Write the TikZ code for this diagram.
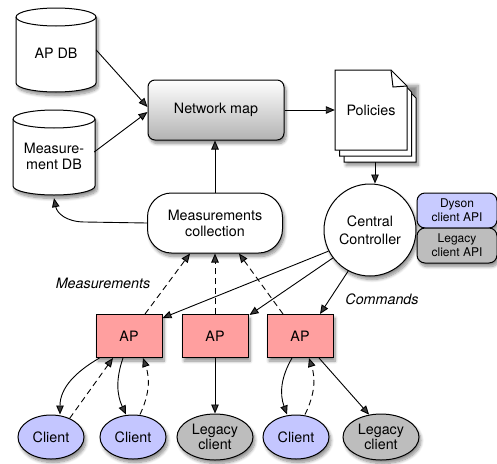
\documentclass[tikz,border=0pt]{standalone}
\usepackage{fontspec}
\setmainfont{TeX Gyre Heros}
\usetikzlibrary{arrows.meta,shadows.blur,calc,shapes.geometric}

\definecolor{appink}{HTML}{FF9F9F}
\definecolor{clientblue}{HTML}{C4C6FF}
\definecolor{legacygray}{HTML}{BDBDBD}
\definecolor{dysonblue}{HTML}{C8CBFF}

\tikzset{
  x=1pt, y=1pt,
  every node/.style={font=\fontsize{14.3}{16}\selectfont, inner sep=0pt},
  softshadow/.style={blur shadow={shadow xshift=2pt, shadow yshift=-3.5pt,
      shadow blur radius=3pt, shadow blur steps=8, shadow opacity=45}},
  outline/.style={draw=black, line width=1pt},
  arr/.style={line width=0.9pt, -{Triangle[length=9pt,width=7.5pt]}},
  dasharr/.style={arr, dash pattern=on 6pt off 4pt},
  apbox/.style={outline, softshadow, fill=appink, minimum width=66pt, minimum height=43pt},
  clientell/.style={outline, softshadow, ellipse, fill=clientblue, minimum width=66pt, minimum height=44pt},
  legacyell/.style={outline, softshadow, ellipse, fill=legacygray, minimum width=76pt, minimum height=46pt,
      align=center, font=\fontsize{14.3}{15}\selectfont},
  apibox/.style={outline, softshadow, rounded corners=8pt, minimum width=80pt, minimum height=35pt,
      align=center, font=\fontsize{12}{14}\selectfont},
  cylbody/.style={outline, fill=white, softshadow},
  page/.style={outline, fill=white, line join=miter},
  caption/.style={font=\fontsize{14.3}{16}\selectfont\itshape},
}

% cylinder outline: #1 left, #2 right, #3 y of top ellipse centre, #4 y of bottom ellipse centre, #5 y radius
\newcommand{\dbcyl}[5]{%
  \pgfmathsetmacro{\cylrx}{(#2-#1)/2}%
  \path[cylbody] (#1,#3) -- (#1,#4)
     arc[start angle=180, end angle=360, x radius=\cylrx pt, y radius=#5 pt]
     -- (#2,#3)
     arc[start angle=0, end angle=180, x radius=\cylrx pt, y radius=#5 pt] -- cycle;
  \draw[outline] (#1,#3) arc[start angle=180, end angle=360, x radius=\cylrx pt, y radius=#5 pt];
}

% one sheet of the document stack: #1 x shift, #2 y shift (downwards)
\newcommand{\sheet}[2]{%
  \path[page] (335+#1,-70-#2) -- (391+#1,-70-#2) -- (407+#1,-86-#2) -- (407+#1,-150-#2)
     -- (335+#1,-150-#2) -- cycle;
}

\begin{document}
\begin{tikzpicture}
\useasboundingbox (0,0) rectangle (497,-463);

% databases
\dbcyl{16}{96}{-17}{-83}{9}
\node[minimum width=80pt, minimum height=78pt] (apdb) at (56,-53) {AP DB};
\dbcyl{13}{95}{-119}{-186}{9}
\node[minimum width=82pt, minimum height=78pt, align=center] (measdb) at (54,-156) {Measure-\\ment DB};

% network map
\node[outline, softshadow, rounded corners=7pt, top color=white, bottom color=black!30,
      minimum width=136pt, minimum height=60pt] (netmap) at (216,-110) {Network map};

% policies document stack
\begin{scope}
  \path[softshadow] (344,-82) rectangle (416,-162);
  \sheet{9}{12}
  \sheet{4.5}{6}
  \sheet{0}{0}
  \draw[outline, line join=miter] (391,-70) -- (393,-87) -- (407,-86);
\end{scope}
\node[minimum width=72pt, minimum height=80pt] (pol) at (371,-110) {Policies};
\coordinate (polbottom) at (375,-162);

% central controller and its APIs
\node[outline, softshadow, circle, fill=white, minimum size=92pt, align=center,
      font=\fontsize{14.3}{18}\selectfont] (cc) at (370,-230) {Central\\Controller};
\node[apibox, fill=dysonblue] (dapi) at (457,-210.5) {Dyson\\client API};
\node[apibox, fill=legacygray] (lapi) at (457,-245.5) {Legacy\\client API};

% measurements collection
\node[outline, softshadow, fill=white, rounded corners=24pt, minimum width=135pt,
      minimum height=60pt, align=center] (mc) at (215,-223) {Measurements\\collection};

% access points
\node[apbox] (ap1) at (129,-336) {AP};
\node[apbox] (ap2) at (215,-336) {AP};
\node[apbox] (ap3) at (300,-336) {AP};

% clients
\node[clientell] (c1) at (51,-437) {Client};
\node[clientell] (c2) at (133,-437) {Client};
\node[legacyell] (l1) at (215,-437) {Legacy\\client};
\node[clientell] (c3) at (296,-437) {Client};
\node[legacyell] (l2) at (381,-437) {Legacy\\client};

% captions
\node[caption] (lblmeas) at (103,-283) {Measurements};
\node[caption] (lblcmd) at (382,-299) {Commands};

% data flow into the network map
\draw[arr] ([yshift=3pt]apdb.east) -- ([yshift=3pt]netmap.west);
\draw[arr] ([xshift=-1pt,yshift=4pt]measdb.east) -- ([yshift=-2pt]netmap.west);
\draw[arr] (netmap.east) -- (pol.west);
\draw[arr] (polbottom) -- (polbottom |- cc.north);
\draw[arr] (mc.north) -- (mc.north |- netmap.south);
\draw[arr] (mc.west) -- (85,-222) .. controls (66,-222) and (57,-213) .. ([yshift=-3pt]measdb.south);

% measurements reported by the APs
\draw[dasharr] ([xshift=16pt]ap1.north) -- ([xshift=-25pt]mc.south);
\draw[dasharr] (ap2.north) -- (ap2.north |- mc.south);
\draw[dasharr] ([xshift=-17pt]ap3.north) -- ([xshift=24pt]mc.south);

% commands from the controller
\draw[arr] (cc.207) -- ([yshift=-4pt]ap1.north east);
\draw[arr] (cc.217) -- ([xshift=1pt,yshift=-1pt]ap2.north east);
\draw[arr] (cc.242) -- ([xshift=20pt]ap3.north);

% AP <-> client links
\draw[arr] ([xshift=4pt]ap1.south west) to[out=210, in=90] ([xshift=9pt]c1.north);
\draw[dasharr] (c1.45) -- ([xshift=-16pt]ap1.south);
\draw[arr] ([xshift=-6pt]ap1.south) to[bend right=22] ([xshift=-7pt]c2.north);
\draw[dasharr] ([xshift=7pt]c2.north) to[bend right=22] ([xshift=14pt]ap1.south);
\draw[arr] (ap2.south) -- (l1.north);
\draw[arr] ([xshift=-8pt]ap3.south) to[bend right=25] ([xshift=-9pt]c3.north);
\draw[dasharr] ([xshift=9pt]c3.north) to[bend right=22] ([xshift=9pt]ap3.south);
\draw[arr] ([xshift=19pt]ap3.south) -- (l2.118);
\end{tikzpicture}
\end{document}
